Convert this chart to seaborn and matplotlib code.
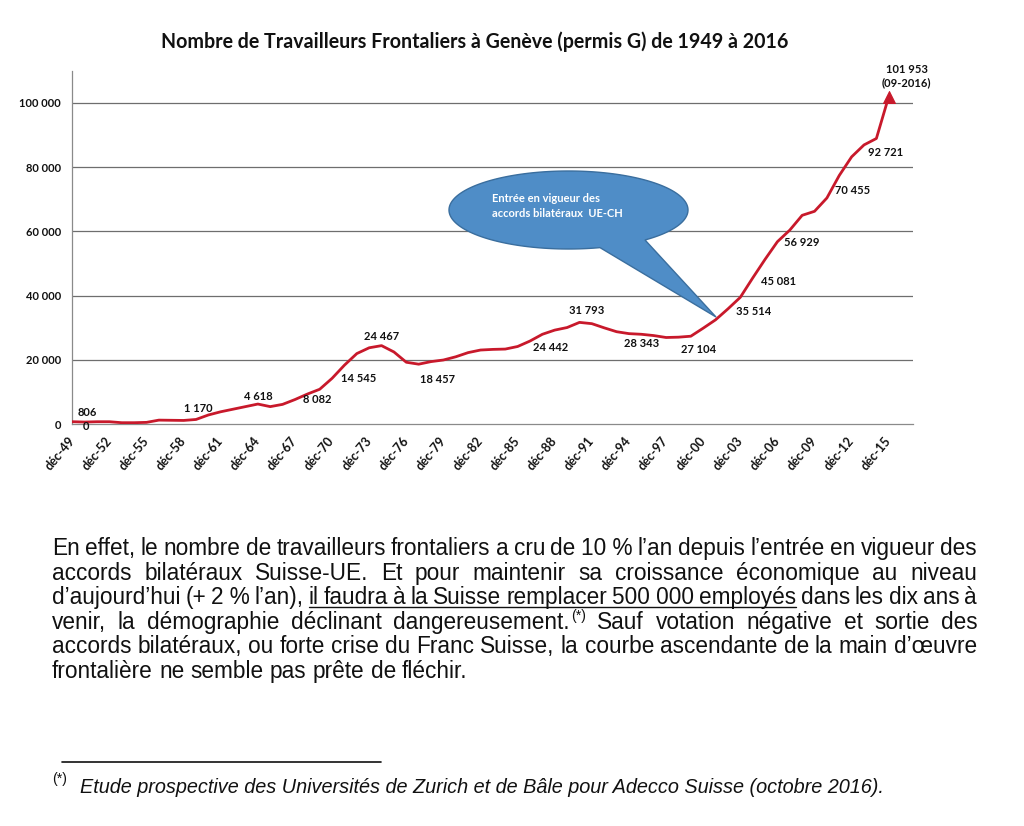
import matplotlib
matplotlib.use("Agg")
import numpy as np
import pandas as pd
import matplotlib.pyplot as plt
import seaborn as sns
from matplotlib.patches import Polygon
from matplotlib.lines import Line2D

# ---------------- data ----------------
years = list(range(1949, 2016))
workers = [806, 700, 800, 800, 500, 500, 600, 1300, 1250, 1200,
           1500, 2900, 3900, 4700, 5500, 6300, 5500, 6200, 7700, 9400,
           10900, 14300, 18400, 22000, 23800, 24467, 22500, 19300, 18700, 19500,
           20000, 21000, 22300, 23100, 23300, 23400, 24200, 25900, 28000, 29300,
           30100, 31700, 31300, 30000, 28800, 28200, 28000, 27600, 27000, 27100,
           27400, 29900, 32500, 35900, 39500, 45500, 51300, 56800, 60400, 65000,
           66250, 70400, 77400, 83200, 86900, 88900, 101953]

tick_years = [1949, 1952, 1955, 1958, 1961, 1964, 1967, 1970, 1973, 1976, 1979, 1982,
              1985, 1988, 1991, 1994, 1997, 2000, 2003, 2006, 2009, 2012, 2015]
tick_labels = ["déc-49", "déc-52", "déc-55", "déc-58", "déc-61", "déc-64", "déc-67",
               "déc-70", "déc-73", "déc-76", "déc-79", "déc-82", "déc-85", "déc-88",
               "déc-91", "déc-94", "déc-97", "déc-00", "déc-03", "déc-06", "déc-09",
               "déc-12", "déc-15"]
y_ticks = [0, 20000, 40000, 60000, 80000, 100000]
y_tick_labels = ["0", "20 000", "40 000", "60 000", "80 000", "100 000"]

label_texts = ["806", "0", "1 170", "4 618", "8 082", "14 545", "24 467", "18 457",
               "24 442", "31 793", "28 343", "27 104", "35 514", "45 081", "56 929",
               "70 455", "92 721", "101 953\n(09-2016)"]
label_years = [1950, 1950, 1959, 1964, 1969, 1972, 1974, 1978, 1987, 1990, 1995,
               1999, 2003, 2004, 2006, 2010, 2014, 2015]

title = "Nombre de Travailleurs Frontaliers à Genève (permis G) de 1949 à 2016"
callout_text = "Entrée en vigueur des\naccords bilatéraux  UE-CH"

para_lines = [
    "En effet, le nombre de travailleurs frontaliers a cru de 10\u00a0% l’an depuis l’entrée en vigueur des",
    "accords bilatéraux Suisse-UE. Et pour maintenir sa croissance économique au niveau",
    "d’aujourd’hui (+ 2\u00a0% l’an), il faudra à la Suisse remplacer 500\u00a0000 employés dans les dix ans à",
    "venir, la démographie déclinant dangereusement.<sup> Sauf votation négative et sortie des",
    "accords bilatéraux, ou forte crise du Franc Suisse, la courbe ascendante de la main d’œuvre",
    "frontalière ne semble pas prête de fléchir.",
]
footnote = "Etude prospective des Universités de Zurich et de Bâle pour Adecco Suisse (octobre 2016)."

# ---------------- style / layout ----------------
label_offsets = [(3, 10), (1, -4), (2, 11), (0, 8), (-2, -10), (1.5, -25), (0, 9),
                 (6, -18), (8, -13), (7, 12), (0, -9), (8, -13), (13, -14),
                 (26, -3), (24, -1), (26, 7), (9, -14), (18, 20)]

sns.set_style("white")
plt.rcParams["font.family"] = ["Lato", "DejaVu Sans"]

W, H = 1024, 826
fig = plt.figure(figsize=(W / 100, H / 100), dpi=100)
fig.patch.set_facecolor("white")


def fx(x):
    return x / W


def fy(y):
    return 1 - y / H


ax_l, ax_r, ax_b, ax_t = 72.3, 913.0, 424.3, 70.65
ax = fig.add_axes([fx(ax_l), fy(ax_b), (ax_r - ax_l) / W, (ax_b - ax_t) / H])

df = pd.DataFrame({"year": years, "workers": workers})
RED = "#c8192b"
sns.lineplot(data=df, x="year", y="workers", color=RED, linewidth=2.0, ax=ax, zorder=3)
sns.scatterplot(x=[years[-1]], y=[workers[-1]], marker="^", s=75, color=RED,
                edgecolor=RED, ax=ax, zorder=4)

ax.set_xlim(1949, 2016.96)
ax.set_ylim(0, 110000)
ax.set_xlabel("")
ax.set_ylabel("")

for v in y_ticks[1:]:
    ax.axhline(v, color="#6e6e6e", lw=0.9, zorder=1)

ax.set_yticks(y_ticks)
ax.set_yticklabels(y_tick_labels, fontsize=8, fontweight="bold", color="#111111")
ax.set_xticks(tick_years)
ax.set_xticklabels(tick_labels, fontsize=9, fontweight="bold", color="#111111",
                   rotation=50, ha="right", va="center", rotation_mode="anchor")
ax.tick_params(axis="y", length=0, pad=8)
ax.tick_params(axis="x", length=4, width=0.8, color="#888888", direction="out", pad=6)

for s in ["top", "right"]:
    ax.spines[s].set_visible(False)
for s in ["left", "bottom"]:
    ax.spines[s].set_color("#8a8a8a")
    ax.spines[s].set_linewidth(0.9)

# data labels anchored to the line
for txt, yr, (dx, dy) in zip(label_texts, label_years, label_offsets):
    val = workers[years.index(yr)]
    ax.annotate(txt, xy=(yr, val), xytext=(dx, dy), textcoords="offset pixels",
                ha="center", va="center", fontsize=8, fontweight="bold",
                color="#111111", zorder=6, linespacing=1.25)

# callout bubble (ellipse + tail as one shape)
cx, cy, a, b = 568.5, 210.0, 119.5, 39.0
t0 = np.arccos((600 - cx) / a)
t1 = np.arccos((645 - cx) / a) + 2 * np.pi
ts = np.linspace(t0, t1, 200)
pts = [(fx(cx + a * np.cos(t)), fy(cy + b * np.sin(t))) for t in ts]
pts.append((fx(716), fy(317)))
bubble = Polygon(pts, closed=True, facecolor="#4f8dc7", edgecolor="#3a6e9e",
                 linewidth=1.0, transform=fig.transFigure, zorder=5)
fig.add_artist(bubble)
fig.text(fx(492), fy(206), callout_text, ha="left", va="center", color="white",
         fontsize=8, fontweight="bold", linespacing=1.45, zorder=6)

# ---------------- title ----------------
r = fig.canvas.get_renderer()
tt = fig.text(fx(475), fy(42), title, ha="center", va="center", fontsize=14,
              fontweight="bold", color="#111111")
w = tt.get_window_extent(r).width
tt.set_fontsize(14 * 630 / w)

# ---------------- paragraph (justified) ----------------
PFAM = ["Liberation Sans Narrow", "Liberation Sans", "DejaVu Sans"]
probe = fig.text(0, 0, para_lines[-1], family=PFAM, fontsize=14)
psize = 14 * 418 / probe.get_window_extent(r).width
probe.remove()
sp = fig.text(0, 0, "a a", family=PFAM, fontsize=psize)
sp2 = fig.text(0, 0, "aa", family=PFAM, fontsize=psize)
space_w = sp.get_window_extent(r).width - sp2.get_window_extent(r).width
sp.remove()
sp2.remove()

baselines = [555, 580, 604, 629, 653, 678]
x0, x1 = 52, 977
placed = []
for i, (line, yb) in enumerate(zip(para_lines, baselines)):
    words = line.split(" ")
    items = []
    for wd in words:
        segs = []
        if "<sup>" in wd:
            base = wd.replace("<sup>", "")
            segs.append(fig.text(0, fy(yb), base, family=PFAM, fontsize=psize,
                                 ha="left", va="baseline", color="#111111"))
            segs.append(fig.text(0, fy(yb - 9), "(*)", family=PFAM, fontsize=psize * 0.62,
                                 ha="left", va="baseline", color="#111111"))
        else:
            segs.append(fig.text(0, fy(yb), wd, family=PFAM, fontsize=psize,
                                 ha="left", va="baseline", color="#111111"))
        widths = [s.get_window_extent(r).width for s in segs]
        items.append((wd, segs, widths))
    total = sum(sum(it[2]) for it in items)
    justify = i < len(para_lines) - 1
    gap = (x1 - x0 - total) / (len(items) - 1) if justify else space_w
    x = x0
    row = []
    for wd, segs, widths in items:
        xs = x
        for s, wdt in zip(segs, widths):
            s.set_x(fx(x))
            x += wdt + 1
        x -= 1
        row.append((wd, xs, x))
        x += gap
    placed.append(row)

# underline "il faudra ... employés"
row3 = placed[2]
names = [p[0] for p in row3]
i0 = names.index("il")
i1 = names.index("employés")
fig.add_artist(Line2D([fx(row3[i0][1]), fx(row3[i1][2])], [fy(baselines[2] + 3)] * 2,
                      color="#111111", lw=1.0, transform=fig.transFigure))

# ---------------- footnote ----------------
fig.add_artist(Line2D([fx(62), fx(381)], [fy(762), fy(762)], color="#111111", lw=1.2,
                      transform=fig.transFigure))
fig.text(fx(52), fy(783), "(*)", family=PFAM, fontsize=psize * 0.62, ha="left",
         va="baseline", color="#111111")
fn = fig.text(fx(80), fy(793), footnote, family=PFAM, style="italic", fontsize=psize,
              ha="left", va="baseline", color="#111111")
fw = fn.get_window_extent(r).width
fn.set_fontsize(psize * 807 / fw)

fig.savefig("out.png", dpi=100, facecolor="white")
